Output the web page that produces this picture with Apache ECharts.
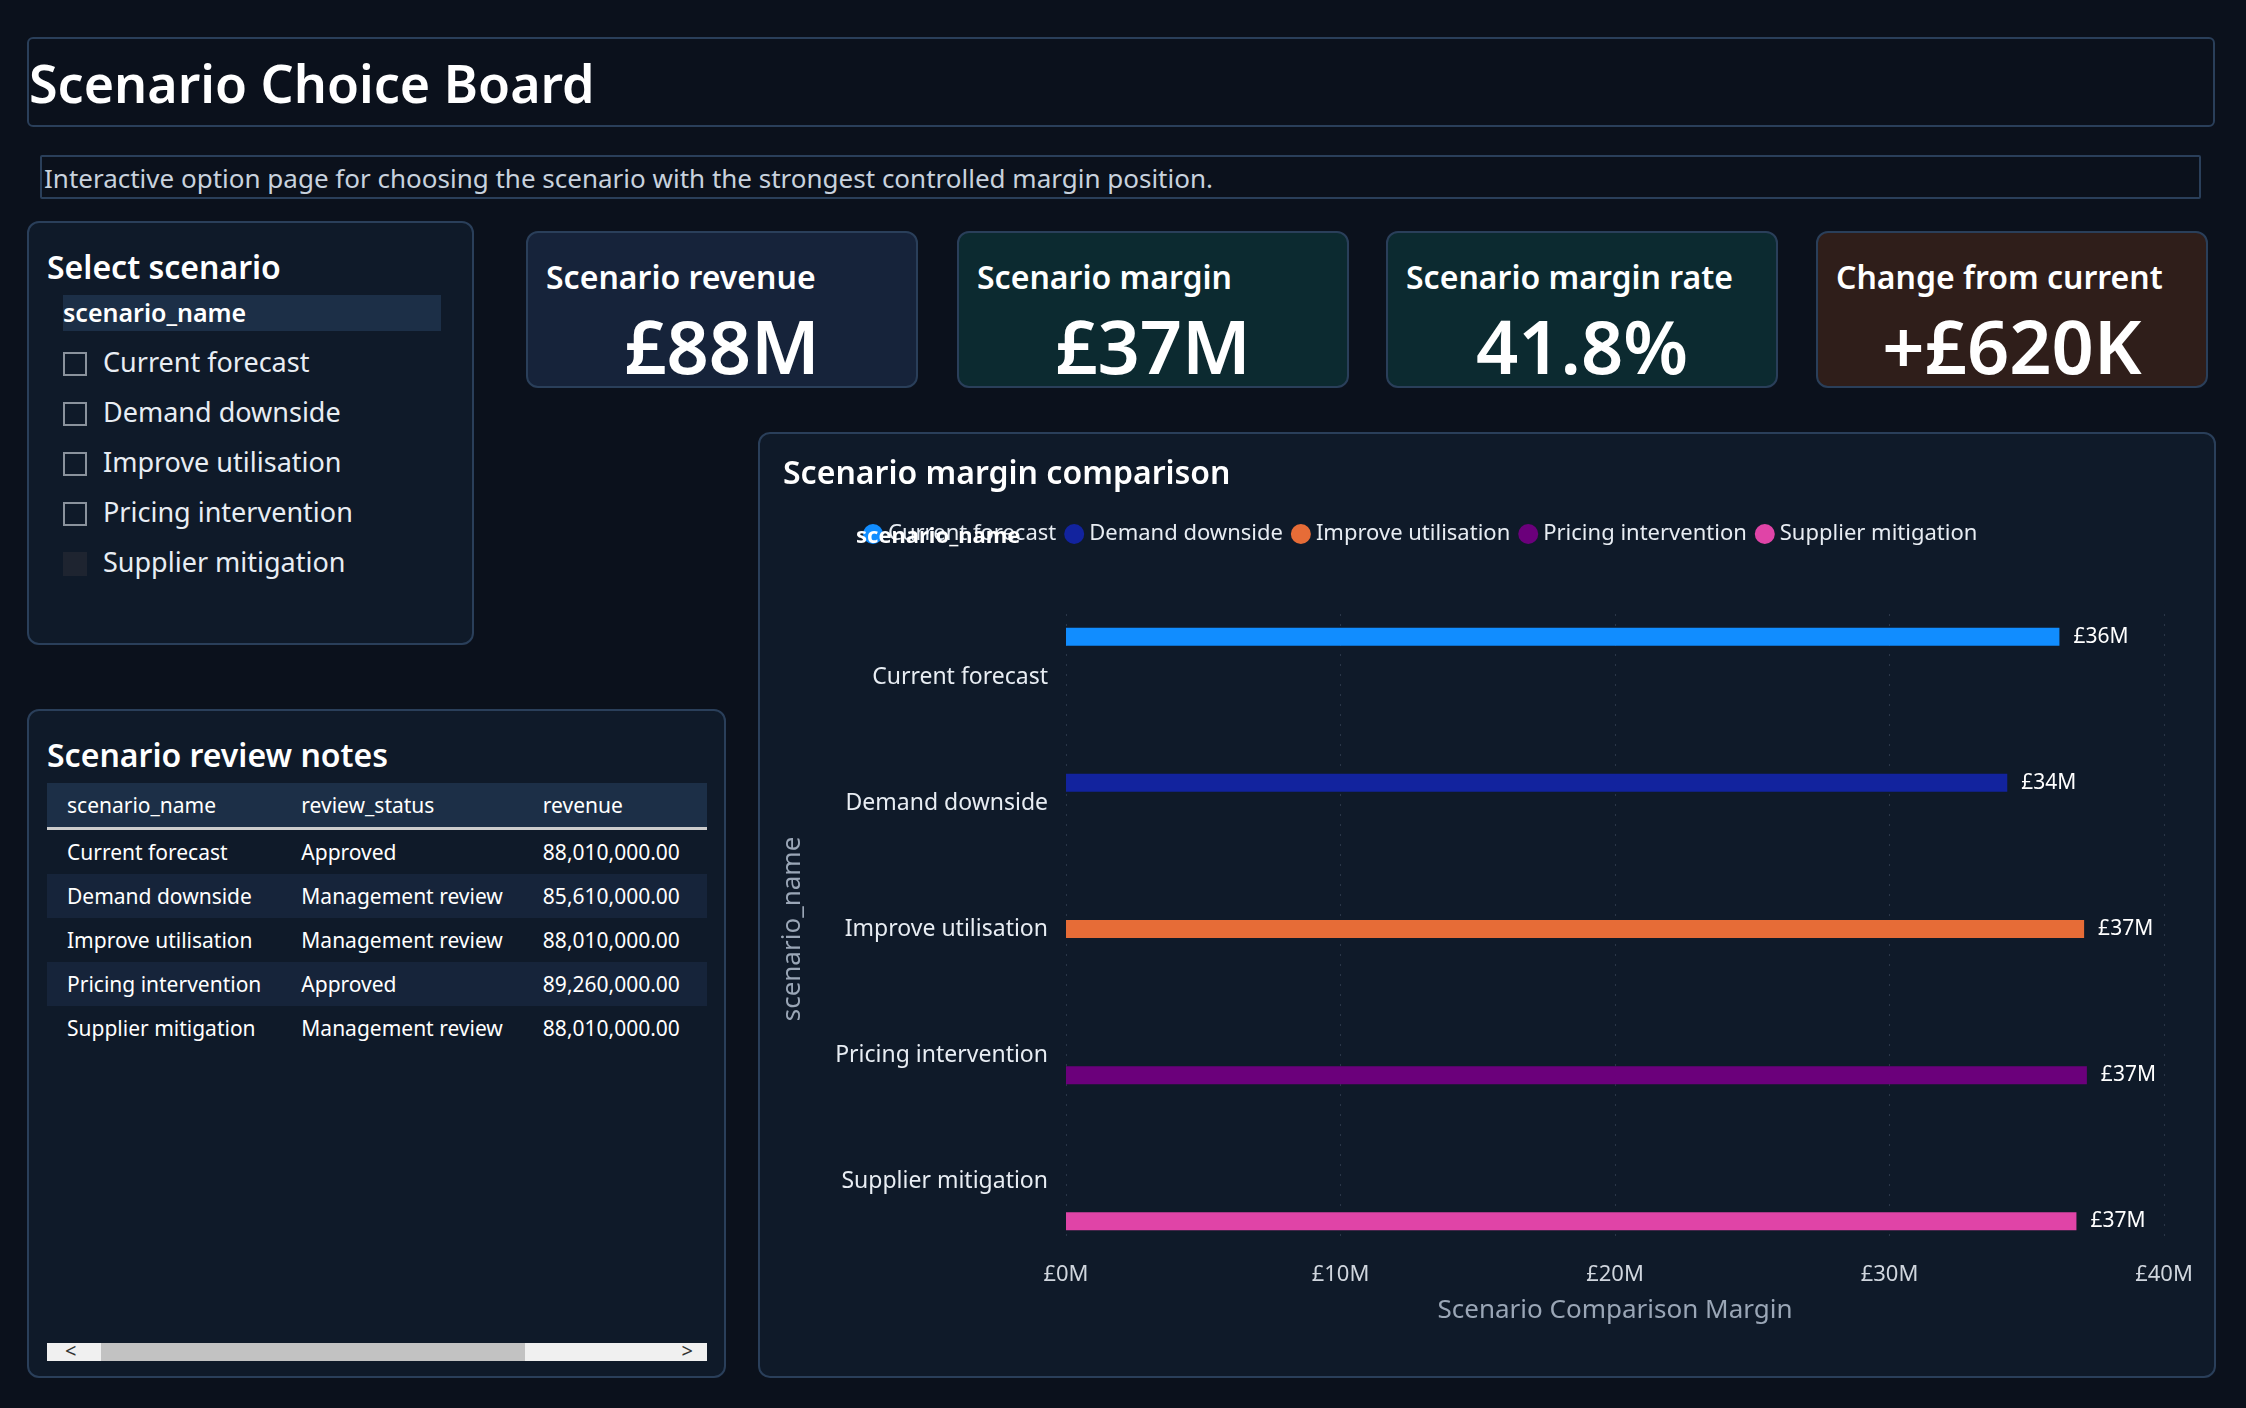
<!DOCTYPE html>
<html><head><meta charset="utf-8">
<script src="https://cdn.jsdelivr.net/npm/echarts@6/dist/echarts.min.js"></script>
<style>
body{margin:0;background:#0b111c;font-family:"Noto Sans","Open Sans",sans-serif;color:#fff;width:2246px;height:1408px;position:relative;overflow:hidden}
.box{position:absolute;box-sizing:border-box;border:2px solid #2a3f5a;border-radius:12px;background:#0f1a29}
.kpi .t{position:absolute;left:18px;top:22px;font-size:32px;font-weight:600}
.kpi .v{position:absolute;left:0;right:0;top:62px;text-align:center;font-size:74px;font-weight:600}
table{border-collapse:collapse;font-size:21px;white-space:nowrap}
td,th{padding:0 20px;height:44px;text-align:left;font-weight:400}
</style></head><body>
<div class="box" style="left:27px;top:37px;width:2188px;height:90px;background:#0b111c;border-radius:6px">
 <div style="position:absolute;left:0;top:8px;font-size:52px;font-weight:600">Scenario Choice Board</div></div>
<div class="box" style="left:40px;top:155px;width:2161px;height:44px;background:#0b111c;border-radius:2px">
 <div style="position:absolute;left:2px;top:3px;font-size:26px;color:#c8d2de">Interactive option page for choosing the scenario with the strongest controlled margin position.</div></div>

<div class="box" style="left:27px;top:221px;width:447px;height:424px">
 <div style="position:absolute;left:18px;top:22px;font-size:32px;font-weight:600">Select scenario</div>
 <div style="position:absolute;left:34px;top:72px;width:378px;height:36px;background:#1c2f47;font-size:25px;font-weight:600;padding-left:0px"><span style="margin-left:0">scenario_name</span></div>
 <div id="slicer"></div>
</div>

<div class="box kpi" style="left:526px;top:231px;width:392px;height:157px;background:#16233a"><div class="t">Scenario revenue</div><div class="v">£88M</div></div>
<div class="box kpi" style="left:957px;top:231px;width:392px;height:157px;background:#0c2a30"><div class="t">Scenario margin</div><div class="v">£37M</div></div>
<div class="box kpi" style="left:1386px;top:231px;width:392px;height:157px;background:#0c2a30"><div class="t">Scenario margin rate</div><div class="v">41.8%</div></div>
<div class="box kpi" style="left:1816px;top:231px;width:392px;height:157px;background:#2f1e1a"><div class="t">Change from current</div><div class="v">+£620K</div></div>

<div class="box" style="left:27px;top:709px;width:699px;height:669px">
 <div style="position:absolute;left:18px;top:22px;font-size:32px;font-weight:600">Scenario review notes</div>
 <div style="position:absolute;left:18px;top:72px;width:660px;height:490px;overflow:hidden"><table id="tbl"></table></div>
 <div style="position:absolute;left:18px;top:632px;width:660px;height:18px;background:#f0f0f0">
  <div style="position:absolute;left:54px;top:0;width:424px;height:18px;background:#c2c2c2"></div>
  <div style="position:absolute;left:18px;top:-6px;color:#333;font-size:20px">&lt;</div>
  <div style="position:absolute;right:14px;top:-6px;color:#333;font-size:20px">&gt;</div></div>
</div>

<div class="box" style="left:758px;top:432px;width:1458px;height:946px">
 <div id="chart" style="position:absolute;left:0;top:0;width:1454px;height:942px"></div></div>

<script>
const scenarios = ['Current forecast','Demand downside','Improve utilisation','Pricing intervention','Supplier mitigation'];
const reviewStatus = ['Approved','Management review','Management review','Approved','Management review'];
const revenue = [88010000, 85610000, 88010000, 89260000, 88010000];
const margin = [36190000, 34290000, 37090000, 37190000, 36810000];
const colors = ['#118dff','#12239e','#e66c37','#6b007b','#e044a7'];

document.getElementById('slicer').innerHTML = scenarios.map((s,i)=>
 `<div style="position:absolute;left:34px;top:${120+i*50}px;font-size:27px;color:#e8edf3">
  <span style="display:inline-block;width:24px;height:24px;box-sizing:border-box;border:2px solid ${i==4?'#1e2430':'#8a929c'};background:${i==4?'#1e2430':'transparent'};vertical-align:-4px;margin-right:16px"></span>${s}</div>`).join('');

const fmt = v => v.toLocaleString('en-US',{minimumFractionDigits:2,maximumFractionDigits:2});
let h = '<tr style="background:#1c2f47;border-bottom:3px solid #ccc"><th>scenario_name</th><th>review_status</th><th>revenue</th><th>margin</th></tr>';
scenarios.forEach((s,i)=>{ h += `<tr style="background:${i%2?'#16243a':'#0f1a29'}"><td>${s}</td><td>${reviewStatus[i]}</td><td>${fmt(revenue[i])}</td><td>${fmt(margin[i])}</td></tr>`; });
document.getElementById('tbl').innerHTML = h;

const chart = echarts.init(document.getElementById('chart'));
chart.setOption({
 textStyle:{fontFamily:'Noto Sans'},
 title:{text:'Scenario margin comparison',left:18,top:20,textStyle:{color:'#fff',fontSize:32,fontWeight:600}},
 legend:{top:84,left:98,itemWidth:20,itemHeight:20,itemGap:8,icon:'circle',textStyle:{color:'#e8edf3',fontSize:22},
  data:scenarios, formatter:n=>n},
 graphic:[{type:'text',left:98,top:85,style:{text:'',fill:'#fff'}}],
 grid:{left:306,right:50,top:180,bottom:132},
 xAxis:{type:'value',min:0,max:40000000,interval:10000000,
  axisLabel:{color:'#d0d6de',fontSize:22,margin:20,formatter:v=>'£'+v/1e6+'M'},
  splitLine:{lineStyle:{color:'#2a3648',type:[2,8]}},
  name:'Scenario Comparison Margin',nameLocation:'middle',nameGap:54,nameTextStyle:{color:'#9aa6b6',fontSize:26}},
 yAxis:{type:'category',inverse:true,data:scenarios,axisLine:{show:false},axisTick:{show:false},
  axisLabel:{color:'#e8edf3',fontSize:23,margin:18},
  name:'scenario_name',nameLocation:'middle',nameGap:260,nameRotate:90,nameTextStyle:{color:'#9aa6b6',fontSize:26}},
 series:scenarios.map((s,i)=>({name:s,type:'bar',barWidth:18,barGap:'12%',barCategoryGap:'22%',
  itemStyle:{color:colors[i]},
  data:scenarios.map((c,j)=>j===i?margin[i]:null),
  label:{show:true,position:'right',distance:14,color:'#fff',fontSize:21,formatter:p=>'£'+Math.round(p.value/1e6)+'M'}}))
});
</script>
<div style="position:absolute;left:856px;top:519px;font-size:22px;font-weight:700;color:#fff">scenario_name</div>
</body></html>
